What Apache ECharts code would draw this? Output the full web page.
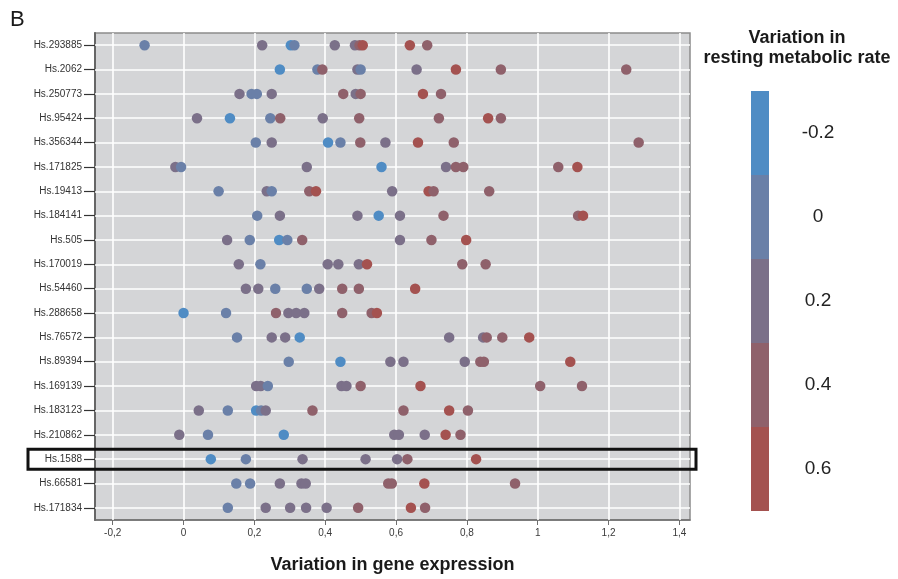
<!DOCTYPE html>
<html>
<head>
<meta charset="utf-8">
<script src="https://cdn.jsdelivr.net/npm/echarts@6/dist/echarts.min.js"></script>
<style>
html,body{margin:0;padding:0;background:#fff;}
#main{width:898px;height:579px;}
</style>
</head>
<body>
<div id="main"></div>
<script>
// ---- Data ----
const categories = ['Hs.293885','Hs.2062','Hs.250773','Hs.95424','Hs.356344','Hs.171825','Hs.19413','Hs.184141','Hs.505','Hs.170019','Hs.54460','Hs.288658','Hs.76572','Hs.89394','Hs.169139','Hs.183123','Hs.210862','Hs.1588','Hs.66581','Hs.171834'];

// variation in gene expression, one list per gene (same order as categories)
const geneExpression = [
  [-0.11, 0.222, 0.303, 0.313, 0.427, 0.484, 0.497, 0.506, 0.639, 0.688],
  [0.272, 0.378, 0.392, 0.491, 0.500, 0.658, 0.769, 0.896, 1.250],
  [0.158, 0.192, 0.207, 0.249, 0.451, 0.486, 0.500, 0.676, 0.727],
  [0.038, 0.131, 0.245, 0.273, 0.393, 0.496, 0.721, 0.860, 0.896],
  [0.204, 0.249, 0.408, 0.443, 0.499, 0.570, 0.662, 0.763, 1.285],
  [-0.023, -0.007, 0.348, 0.559, 0.741, 0.769, 0.790, 1.058, 1.112],
  [0.099, 0.235, 0.249, 0.355, 0.374, 0.589, 0.692, 0.706, 0.863],
  [0.208, 0.272, 0.491, 0.551, 0.611, 0.734, 1.114, 1.128],
  [0.123, 0.187, 0.270, 0.293, 0.335, 0.611, 0.700, 0.798],
  [0.156, 0.217, 0.407, 0.437, 0.495, 0.518, 0.787, 0.853],
  [0.176, 0.211, 0.259, 0.348, 0.383, 0.448, 0.495, 0.654],
  [0.000, 0.120, 0.261, 0.296, 0.318, 0.341, 0.448, 0.531, 0.546],
  [0.151, 0.249, 0.287, 0.328, 0.750, 0.846, 0.856, 0.900, 0.976],
  [0.297, 0.443, 0.584, 0.621, 0.794, 0.838, 0.848, 1.092],
  [0.205, 0.218, 0.238, 0.446, 0.460, 0.500, 0.669, 1.007, 1.125],
  [0.043, 0.125, 0.205, 0.219, 0.232, 0.364, 0.621, 0.750, 0.803],
  [-0.012, 0.069, 0.283, 0.595, 0.608, 0.681, 0.740, 0.782],
  [0.077, 0.176, 0.336, 0.514, 0.603, 0.632, 0.826],
  [0.149, 0.188, 0.272, 0.333, 0.345, 0.578, 0.588, 0.680, 0.936],
  [0.125, 0.232, 0.301, 0.346, 0.404, 0.493, 0.642, 0.682]
];

// variation in resting metabolic rate for each point (same shape as geneExpression)
const metabolicRate = [
  [0, 0.2, -0.2, 0, 0.2, 0.2, 0.4, 0.6, 0.6, 0.4],
  [-0.2, 0, 0.4, 0.2, 0, 0.2, 0.6, 0.4, 0.4],
  [0.2, 0, 0, 0.2, 0.4, 0.2, 0.4, 0.6, 0.4],
  [0.2, -0.2, 0, 0.4, 0.2, 0.4, 0.4, 0.6, 0.4],
  [0, 0.2, -0.2, 0, 0.4, 0.2, 0.6, 0.4, 0.4],
  [0.2, 0, 0.2, -0.2, 0.2, 0.4, 0.4, 0.4, 0.6],
  [0, 0.2, 0, 0.4, 0.6, 0.2, 0.6, 0.4, 0.4],
  [0, 0.2, 0.2, -0.2, 0.2, 0.4, 0.4, 0.6],
  [0.2, 0, -0.2, 0, 0.4, 0.2, 0.4, 0.6],
  [0.2, 0, 0.2, 0.2, 0.2, 0.6, 0.4, 0.4],
  [0.2, 0.2, 0, 0, 0.2, 0.4, 0.4, 0.6],
  [-0.2, 0, 0.4, 0.2, 0.2, 0.2, 0.4, 0.4, 0.6],
  [0, 0.2, 0.2, -0.2, 0.2, 0.2, 0.4, 0.4, 0.6],
  [0, -0.2, 0.2, 0.2, 0.2, 0.4, 0.4, 0.6],
  [0.2, 0.2, 0, 0.2, 0.2, 0.4, 0.6, 0.4, 0.4],
  [0.2, 0, -0.2, 0, 0.2, 0.4, 0.4, 0.6, 0.4],
  [0.2, 0, -0.2, 0.2, 0.2, 0.2, 0.6, 0.4],
  [-0.2, 0, 0.2, 0.2, 0.2, 0.4, 0.6],
  [0, 0, 0.2, 0.2, 0.2, 0.4, 0.4, 0.6, 0.4],
  [0, 0.2, 0.2, 0.2, 0.2, 0.4, 0.6, 0.4]
];

const xTickValues = [-0.2, 0, 0.2, 0.4, 0.6, 0.8, 1.0, 1.2, 1.4];
const xTickLabels = ['-0,2', '0', '0,2', '0,4', '0,6', '0,8', '1', '1,2', '1,4'];

const rateLevels = [-0.2, 0, 0.2, 0.4, 0.6];
const rateLabels = ['-0.2', '0', '0.2', '0.4', '0.6'];
const rateColors = ['#4f8cc4', '#6a80a8', '#7b7089', '#8f616b', '#a45250'];

const highlightGene = 'Hs.1588';

// ---- Build ----
const points = [];
categories.forEach(function (cat, i) {
  geneExpression[i].forEach(function (v, j) {
    points.push([v, cat, metabolicRate[i][j]]);
  });
});

const gridLines = categories.map(function (c) { return { yAxis: c }; })
  .concat(xTickValues.map(function (v) { return { xAxis: v }; }));

const FONT = '"Liberation Sans", Arial, sans-serif';

const chart = echarts.init(document.getElementById('main'), null, { renderer: 'canvas' });

const staticGraphics = [
  { type: 'text', x: 10, y: 9, style: { text: 'B', fontSize: 22, fill: '#1a1a1a', fontFamily: FONT } },
  { type: 'text', x: 797, y: 28, style: { text: 'Variation in\nresting metabolic rate', align: 'center', verticalAlign: 'top', fontSize: 18, fontWeight: 'bold', lineHeight: 20, fill: '#1a1a1a', fontFamily: FONT } }
];

chart.setOption({
  animation: false,
  backgroundColor: '#ffffff',
  textStyle: { fontFamily: FONT },
  grid: {
    left: 95, right: 208, top: 33, bottom: 56,
    show: true,
    backgroundColor: '#d4d5d7',
    borderColor: '#8c8c8c',
    borderWidth: 1.5
  },
  xAxis: {
    type: 'value',
    min: -0.25,
    max: 1.43,
    name: 'Variation in gene expression',
    nameLocation: 'middle',
    nameGap: 36,
    nameTextStyle: { fontSize: 18, fontWeight: 'bold', color: '#1a1a1a', fontFamily: FONT },
    axisLine: { show: true, onZero: false, lineStyle: { color: '#6e6e6e', width: 1.5 } },
    axisTick: { show: true, length: 5, customValues: xTickValues, lineStyle: { color: '#6e6e6e', width: 1 } },
    axisLabel: {
      customValues: xTickValues,
      margin: 8,
      fontSize: 10,
      color: '#3a3a3a',
      formatter: function (v) {
        const k = xTickValues.findIndex(function (t) { return Math.abs(t - v) < 1e-6; });
        return k >= 0 ? xTickLabels[k] : '';
      }
    },
    splitLine: { show: false }
  },
  yAxis: {
    type: 'category',
    data: categories,
    inverse: true,
    boundaryGap: true,
    axisLine: { show: true, onZero: false, lineStyle: { color: '#666666', width: 2 } },
    axisTick: { show: true, alignWithLabel: true, length: 11, lineStyle: { color: '#333333', width: 1.2 } },
    axisLabel: { margin: 13, fontSize: 10, color: '#333333', fontFamily: FONT },
    splitLine: { show: false }
  },
  visualMap: {
    type: 'piecewise',
    dimension: 2,
    seriesIndex: 0,
    orient: 'vertical',
    inverse: true,
    align: 'left',
    left: 751,
    top: 91,
    padding: 0,
    itemWidth: 18,
    itemHeight: 84,
    itemGap: 0,
    itemSymbol: 'rect',
    textGap: 34,
    selectedMode: false,
    showLabel: true,
    textStyle: { fontSize: 19, color: '#222222', fontFamily: FONT,
      rich: { c: { width: 30, align: 'center', fontSize: 19, color: '#222222', fontFamily: FONT } } },
    pieces: rateLevels.map(function (lv, k) {
      return { gte: lv - 0.1, lt: lv + 0.1, label: '{c|' + rateLabels[k] + '}', color: rateColors[k] };
    })
  },
  series: [{
    type: 'scatter',
    data: points,
    symbolSize: 10.5,
    z: 3,
    itemStyle: { opacity: 1 },
    markLine: {
      silent: true,
      z: 1,
      symbol: ['none', 'none'],
      label: { show: false },
      lineStyle: { color: '#ffffff', width: 1.6, type: 'solid' },
      emphasis: { disabled: true },
      data: gridLines
    }
  }],
  graphic: staticGraphics
});

// highlight box around the selected gene row
const cy = chart.convertToPixel({ yAxisIndex: 0 }, highlightGene);
chart.setOption({
  graphic: staticGraphics.concat([
    { type: 'rect', z: 100, shape: { x: 28, y: cy - 10, width: 668, height: 20 },
      style: { fill: 'none', stroke: '#111111', lineWidth: 3 } }
  ])
}, { replaceMerge: ['graphic'] });
</script>
</body>
</html>
